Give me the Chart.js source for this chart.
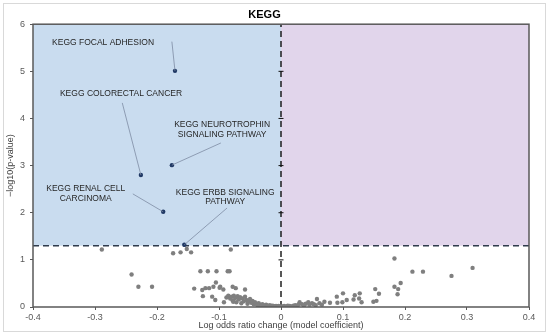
<!DOCTYPE html>
<html>
<head>
<meta charset="utf-8">
<script src="https://cdn.jsdelivr.net/npm/chart.js@4"></script>
<style>
  html, body { margin: 0; padding: 0; background: #fff; }
  #chart { display: block; }
</style>
</head>
<body>
<canvas id="chart" width="550" height="335"></canvas>
<script>
// significance threshold, -log10(0.05)
const pThreshold = 1.301

// highlighted KEGG pathways
const hitNames = [
  ["KEGG FOCAL ADHESION"],
  ["KEGG COLORECTAL CANCER"],
  ["KEGG NEUROTROPHIN", "SIGNALING PATHWAY"],
  ["KEGG RENAL CELL", "CARCINOMA"],
  ["KEGG ERBB SIGNALING", "PATHWAY"]
]
const hitX = [-0.171, -0.226, -0.176, -0.190, -0.156]
const hitY = [5.01, 2.80, 3.01, 2.02, 1.32]

// all other pathways
const otherX = [
  -0.289, -0.241, -0.230, -0.208, -0.174, -0.162, -0.152, -0.145, -0.081,
  -0.130, -0.118, -0.104, -0.086, -0.083,
  -0.140, -0.127, -0.122, -0.116, -0.109, -0.105, -0.099, -0.093,
  -0.126, -0.111, -0.106, -0.078, -0.073, -0.058, -0.098,
  -0.088, -0.085, -0.082, -0.080, -0.078, -0.076, -0.074, -0.072, -0.070, -0.068,
  -0.066, -0.064, -0.062, -0.060, -0.058, -0.056, -0.054, -0.052, -0.050, -0.048,
  -0.046, -0.044, -0.042, -0.040, -0.038, -0.036, -0.034, -0.032, -0.030, -0.028,
  -0.026, -0.024, -0.022, -0.020, -0.018, -0.016, -0.014, -0.012, -0.010, -0.008,
  -0.006, -0.004, -0.002, -0.092, -0.077,
  0.002, 0.005, 0.008, 0.011, 0.014, 0.017, 0.020, 0.023, 0.026, 0.030,
  0.028, 0.034, 0.037, 0.040, 0.044, 0.046, 0.050, 0.053, 0.058, 0.056,
  0.062, 0.066, 0.070, 0.079, 0.090, 0.091, 0.100, 0.099, 0.106, 0.117,
  0.119, 0.127, 0.130, 0.126, 0.149, 0.152, 0.158, 0.154,
  0.183, 0.212, 0.229, 0.275, 0.309, 0.193, 0.183, 0.189, 0.188
]
const otherY = [
  1.22, 0.69, 0.43, 0.43, 1.14, 1.16, 1.23, 1.16, 1.22,
  0.76, 0.76, 0.76, 0.76, 0.76,
  0.39, 0.36, 0.40, 0.40, 0.43, 0.52, 0.41, 0.37,
  0.23, 0.22, 0.15, 0.43, 0.40, 0.37, 0.43,
  0.20, 0.24, 0.18, 0.22, 0.14, 0.24, 0.19, 0.10, 0.23, 0.16,
  0.21, 0.08, 0.18, 0.12, 0.22, 0.15, 0.07, 0.12, 0.17, 0.09,
  0.13, 0.06, 0.10, 0.07, 0.04, 0.08, 0.05, 0.03, 0.06, 0.04,
  0.02, 0.05, 0.03, 0.02, 0.04, 0.01, 0.03, 0.02, 0.01, 0.02,
  0.01, 0.02, 0.01, 0.10, 0.11,
  0.01, 0.02, 0.01, 0.03, 0.02, 0.01, 0.03, 0.04, 0.02, 0.10,
  0.05, 0.06, 0.03, 0.07, 0.10, 0.05, 0.08, 0.06, 0.17, 0.04,
  0.08, 0.05, 0.11, 0.09, 0.22, 0.09, 0.29, 0.10, 0.15, 0.16,
  0.25, 0.29, 0.10, 0.18, 0.11, 0.38, 0.28, 0.13,
  1.03, 0.75, 0.75, 0.66, 0.83, 0.51, 0.43, 0.38, 0.27
]

// where each label text sits and where its leader line starts (data units)
const labelAt = [
  { x: -0.287, y: [5.61], lx: -0.176, ly: 5.63 },
  { x: -0.258, y: [4.52], lx: -0.256, ly: 4.33 },
  { x: -0.095, y: [3.86, 3.65], lx: -0.097, ly: 3.48 },
  { x: -0.315, y: [2.51, 2.29], lx: -0.239, ly: 2.40 },
  { x: -0.090, y: [2.42, 2.23], lx: -0.087, ly: 2.10 }
]

const font = "'Liberation Sans', Arial, sans-serif"

const volcanoDecor = {
  id: "volcanoDecor",
  beforeDraw(chart) {
    const { ctx } = chart
    ctx.save()
    ctx.strokeStyle = "#d9d9d9"
    ctx.lineWidth = 1
    ctx.strokeRect(3.5, 3.5, 542, 328)
    ctx.restore()
  },
  beforeDatasetsDraw(chart) {
    const { ctx, chartArea: a, scales: { x, y } } = chart
    const x0 = x.getPixelForValue(0)
    const yT = y.getPixelForValue(pThreshold)
    ctx.save()
    ctx.fillStyle = "#c9dcef"
    ctx.fillRect(a.left, a.top, x0 - a.left, yT - a.top)
    ctx.fillStyle = "#e1d5eb"
    ctx.fillRect(x0, a.top, a.right - x0, yT - a.top)

    ctx.lineWidth = 1.4
    ctx.setLineDash([6, 4])
    ctx.strokeStyle = "#2f3b4c"
    ctx.beginPath()
    ctx.moveTo(a.left, yT)
    ctx.lineTo(a.right, yT)
    ctx.stroke()
    ctx.strokeStyle = "#111"
    ctx.beginPath()
    ctx.moveTo(x0, a.bottom)
    ctx.lineTo(x0, a.top)
    ctx.stroke()

    // little cross ticks on the zero line
    ctx.setLineDash([])
    ctx.lineWidth = 1
    y.ticks.forEach(t => {
      if (t.value <= 0 || t.value >= 6) return
      const py = y.getPixelForValue(t.value)
      ctx.beginPath()
      ctx.moveTo(x0 - 2.5, py)
      ctx.lineTo(x0 + 2.5, py)
      ctx.stroke()
    })
    ctx.restore()
  },
  afterDatasetsDraw(chart) {
    const { ctx, chartArea: a, scales: { x, y } } = chart
    ctx.save()
    ctx.strokeStyle = "#595959"
    ctx.lineWidth = 1.5
    ctx.strokeRect(a.left, a.top, a.right - a.left, a.bottom - a.top)

    ctx.font = "8.5px " + font
    ctx.textAlign = "center"
    ctx.textBaseline = "middle"
    labelAt.forEach((l, i) => {
      ctx.fillStyle = "#262626"
      hitNames[i].forEach((line, j) => {
        ctx.fillText(line, x.getPixelForValue(l.x), y.getPixelForValue(l.y[j]))
      })
      ctx.strokeStyle = "#7d8ca3"
      ctx.lineWidth = 0.8
      ctx.beginPath()
      ctx.moveTo(x.getPixelForValue(l.lx), y.getPixelForValue(l.ly))
      ctx.lineTo(x.getPixelForValue(hitX[i]), y.getPixelForValue(hitY[i]))
      ctx.stroke()
    })
    ctx.restore()
  }
}

new Chart(document.getElementById("chart"), {
  type: "scatter",
  data: {
    datasets: [
      {
        label: "Other pathways",
        data: otherX.map((v, i) => ({ x: v, y: otherY[i] })),
        pointBackgroundColor: "#7f7f7f",
        pointBorderWidth: 0,
        pointRadius: 2.2
      },
      {
        label: "Highlighted pathways",
        data: hitX.map((v, i) => ({ x: v, y: hitY[i] })),
        pointBackgroundColor: "#1f3864",
        pointBorderWidth: 0,
        pointRadius: 2.2
      }
    ]
  },
  options: {
    responsive: false,
    animation: false,
    layout: { padding: { left: 0, right: 21, top: 0, bottom: 2 } },
    plugins: {
      legend: { display: false },
      tooltip: { enabled: false },
      title: {
        display: true,
        text: "KEGG",
        color: "#000",
        font: { family: font, size: 11, weight: "bold" },
        padding: { top: 8, bottom: 3 }
      }
    },
    scales: {
      x: {
        type: "linear",
        min: -0.4,
        max: 0.4,
        afterFit: s => { s.height = 26 },
        ticks: {
          stepSize: 0.1,
          padding: 2,
          color: "#595959",
          font: { family: font, size: 9 },
          callback: v => String(Number(v.toFixed(1)))
        },
        grid: { drawOnChartArea: false, drawTicks: true, tickLength: 3, color: "#595959" },
        border: { display: false },
        title: {
          display: true,
          text: "Log odds ratio change (model coefficient)",
          color: "#404040",
          font: { family: font, size: 9 },
          padding: { top: 0, bottom: 2 }
        }
      },
      y: {
        min: 0,
        max: 6,
        afterFit: s => { s.width = 33 },
        ticks: {
          stepSize: 1,
          padding: 5,
          color: "#595959",
          font: { family: font, size: 9 }
        },
        grid: { drawOnChartArea: false, drawTicks: true, tickLength: 3, color: "#595959" },
        border: { display: false },
        title: {
          display: true,
          text: "\u2212log10(p-value)",
          color: "#404040",
          font: { family: font, size: 9 },
          padding: { top: 5, bottom: 0 }
        }
      }
    }
  },
  plugins: [volcanoDecor]
})
</script>
</body>
</html>
